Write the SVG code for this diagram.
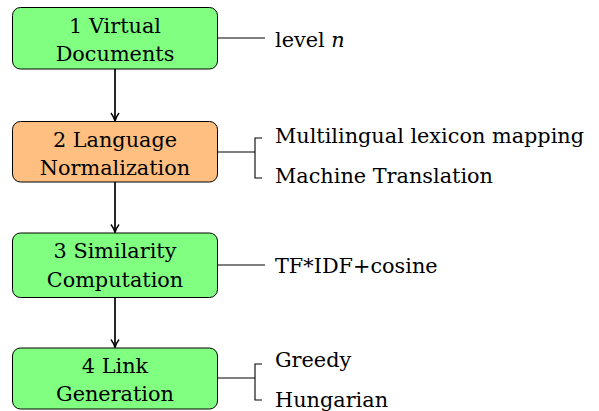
<svg xmlns="http://www.w3.org/2000/svg" width="599" height="411" viewBox="0 0 599 411">
<style>
.box{stroke:#000;stroke-width:1;}
.g{fill:#80ff80;}
.o{fill:#ffbf80;}
text{font-family:"DejaVu Serif","Liberation Serif",serif;font-size:20.8px;fill:#000;}
.c{text-anchor:middle;}
.ln{stroke:#000;stroke-width:1.1;fill:none;}
.ar{stroke:#000;stroke-width:1.7;fill:none;}
</style>
<defs>
<marker id="ah" viewBox="0 0 10 10" refX="9" refY="5" markerWidth="10" markerHeight="10" markerUnits="userSpaceOnUse" orient="auto">
<path d="M1,1 Q5,4 9,5 Q5,6 1,9" fill="none" stroke="#000" stroke-width="1.4"/>
</marker>
</defs>
<rect width="599" height="411" fill="#fff"/>
<g id="n1"><rect class="box g" x="12.5" y="7.5" width="205" height="61.5" rx="8"/><text class="c" x="115" y="33">1 Virtual</text><text class="c" x="115" y="61">Documents</text></g>
<g id="n2"><rect class="box o" x="12.5" y="121.5" width="205" height="60.5" rx="8"/><text class="c" x="115" y="147">2 Language</text><text class="c" x="115" y="175">Normalization</text></g>
<g id="n3"><rect class="box g" x="12.5" y="233" width="205" height="64.5" rx="8"/><text class="c" x="115" y="258">3 Similarity</text><text class="c" x="115" y="287">Computation</text></g>
<g id="n4"><rect class="box g" x="12.5" y="348" width="205" height="61" rx="8"/><text class="c" x="115" y="373">4 Link</text><text class="c" x="115" y="401">Generation</text></g>
<g id="l1"><text x="275" y="47">level <tspan font-style="italic">n</tspan></text></g>
<g id="l2"><text x="275" y="143">Multilingual lexicon mapping</text><text x="275" y="183">Machine Translation</text></g>
<g id="l3"><text x="275" y="273">TF*IDF+cosine</text></g>
<g id="l4"><text x="275" y="367">Greedy</text><text x="275" y="407">Hungarian</text></g>
<g id="connectors">
<line class="ar" x1="115" y1="69" x2="115" y2="121" marker-end="url(#ah)"/>
<line class="ar" x1="115" y1="182" x2="115" y2="232.5" marker-end="url(#ah)"/>
<line class="ar" x1="115" y1="297.5" x2="115" y2="347.5" marker-end="url(#ah)"/>
<line class="ln" x1="217.5" y1="38" x2="265" y2="38"/>
<path class="ln" d="M217.5,152H255M262,138H255V178H262"/>
<line class="ln" x1="217.5" y1="265" x2="265" y2="265"/>
<path class="ln" d="M217.5,378H255M262,364H255V400H262"/>
</g>
</svg>
